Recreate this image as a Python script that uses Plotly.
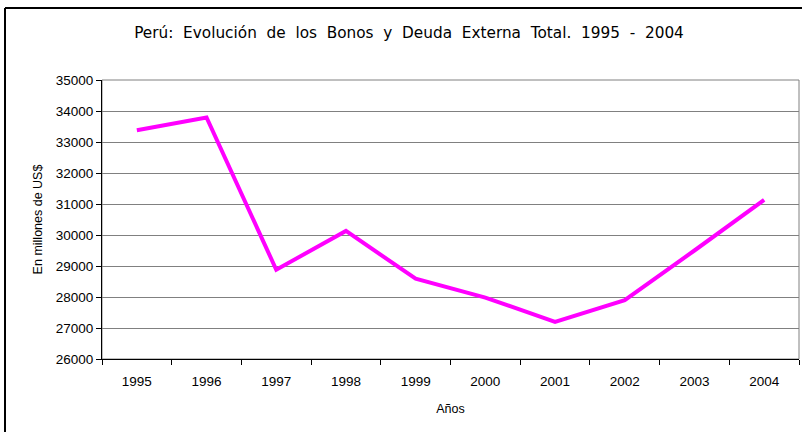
import plotly.graph_objects as go

years = ["1995", "1996", "1997", "1998", "1999", "2000", "2001", "2002", "2003", "2004"]
deuda = [33380, 33790, 28880, 30130, 28590, 27980, 27200, 27900, 29500, 31130]
y_ticks = [26000, 27000, 28000, 29000, 30000, 31000, 32000, 33000, 34000, 35000]

W, H = 803, 432
L, R, T, B = 102, 4, 80, 73
pw, ph = W - L - R, H - T - B

fig = go.Figure()
fig.add_trace(go.Scatter(
    x=years, y=deuda, mode="lines",
    line=dict(color="#FF00FF", width=4),
    showlegend=False, hoverinfo="x+y",
))

tick_font = dict(family="Liberation Sans", size=13.5, color="black")

fig.update_layout(
    width=W, height=H,
    margin=dict(l=L, r=R, t=T, b=B, autoexpand=False),
    paper_bgcolor="white", plot_bgcolor="white",
    title=dict(
        text="Perú:  Evolución  de  los  Bonos  y  Deuda  Externa  Total.  1995  -  2004",
        x=409 / W, xanchor="center", y=1 - 33 / H, yanchor="middle",
        font=dict(family="DejaVu Sans", size=15.3, color="black"),
        automargin=False,
    ),
    xaxis=dict(
        type="category", range=[-0.5, 9.5], tickson="boundaries", ticks="outside", ticklen=5,
        tickcolor="black", showline=True, linecolor="black", linewidth=1,
        showgrid=False, automargin=False, tickfont=tick_font, ticklabelstandoff=10,
        title=dict(text="Años", font=dict(family="Liberation Sans", size=12.5, color="black"), standoff=16),
    ),
    yaxis=dict(
        range=[26000, 35000], tickvals=y_ticks, tickformat="d", ticks="outside", ticklen=5,
        tickcolor="black", showline=True, linecolor="black", linewidth=1,
        showgrid=True, gridcolor="#808080", gridwidth=1, zeroline=False, automargin=False,
        tickfont=tick_font,
        title=dict(text="En millones de US$", font=dict(family="Liberation Sans", size=12.5, color="black"), standoff=10),
    ),
    shapes=[
        dict(type="rect", xref="paper", yref="paper", x0=0, x1=1, y0=0, y1=1,
             line=dict(color="#808080", width=1), layer="below"),
        # chart-area border: left edge and top edge
        dict(type="line", xref="paper", yref="paper",
             x0=(5 - L) / pw, x1=(5 - L) / pw, y0=-(B + 4) / ph, y1=1 + (T - 8) / ph,
             line=dict(color="black", width=2), layer="above"),
        dict(type="line", xref="paper", yref="paper",
             x0=(5 - L) / pw, x1=1 + (R - 1) / pw, y0=1 + (T - 8) / ph, y1=1 + (T - 8) / ph,
             line=dict(color="black", width=2), layer="above"),
    ],
)

fig.write_html("out.html", config={"displayModeBar": False},
               post_script="document.body.style.margin='0';")
